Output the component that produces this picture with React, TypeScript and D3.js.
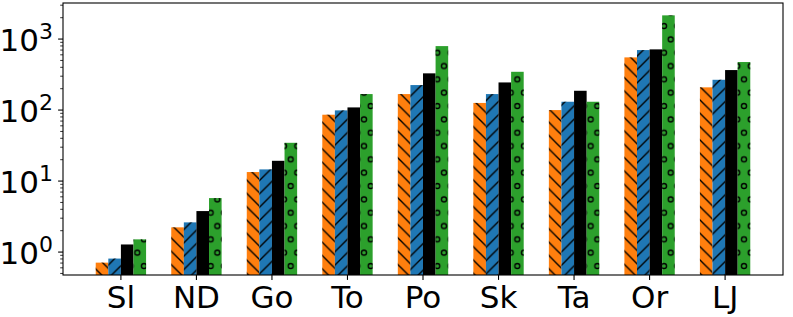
import React from "react";
import * as d3 from "d3";

const categories = ["Sl", "ND", "Go", "To", "Po", "Sk", "Ta", "Or", "LJ"];
const orangeVals = [0.71, 2.23, 13.4, 86, 168, 126, 100, 552, 209];
const blueVals = [0.81, 2.62, 14.6, 99, 225, 168, 131, 700, 267];
const blackVals = [1.28, 3.78, 19.3, 109, 329, 245, 187, 716, 366];
const greenVals = [1.51, 5.76, 34.6, 168, 796, 346, 131, 2157, 475];
const majorTicks = [1, 10, 100, 1000];
const majorLabels = ["0", "1", "2", "3"];

const series = [
  { vals: orangeVals, color: "#ff7f0e", hatch: "url(#hatchBack)" },
  { vals: blueVals, color: "#1f77b4", hatch: "url(#hatchFwd)" },
  { vals: blackVals, color: "#000000", hatch: null },
  { vals: greenVals, color: "#2ca02c", hatch: "url(#hatchCircles)" },
];

const W = 793;
const H = 317;
const left = 63, right = 783, top = 3, bottom = 275;
const barW = 1 / 6;

export default function App() {
  // x limits like matplotlib: bar extents + 5% margins
  const lo = -2 * barW, hi = categories.length - 1 + 2 * barW;
  const xm = (hi - lo) * 0.05;
  const x = d3.scaleLinear().domain([lo - xm, hi + xm]).range([left, right]);

  const all = series.flatMap(s => s.vals);
  const lmin = Math.log10(d3.min(all)!), lmax = Math.log10(d3.max(all)!);
  const ym = (lmax - lmin) * 0.05;
  const y = d3.scaleLog().domain([10 ** (lmin - ym), 10 ** (lmax + ym)]).range([bottom, top]);

  const minorTicks: number[] = [];
  for (let e = -1; e <= 3; e++) {
    for (let k = 2; k <= 9; k++) {
      const v = k * 10 ** e;
      if (v >= y.domain()[0] && v <= y.domain()[1]) minorTicks.push(v);
    }
  }

  const font = "DejaVu Sans, sans-serif";
  const P = 40 / 3;
  const hw = 1.4;

  return (
    <svg width={W} height={H} style={{ position: "absolute", left: 0, top: 0 }}>
      <defs>
        <pattern id="hatchBack" patternUnits="userSpaceOnUse" width={P} height={P}>
          <line x1={-1} y1={-1} x2={P + 1} y2={P + 1} stroke="#000" strokeWidth={hw} />
          <line x1={-1} y1={P - 1} x2={1} y2={P + 1} stroke="#000" strokeWidth={hw} />
          <line x1={P - 1} y1={-1} x2={P + 1} y2={1} stroke="#000" strokeWidth={hw} />
        </pattern>
        <pattern id="hatchFwd" patternUnits="userSpaceOnUse" width={P} height={P}>
          <line x1={-1} y1={P + 1} x2={P + 1} y2={-1} stroke="#000" strokeWidth={hw} />
          <line x1={-1} y1={1} x2={1} y2={-1} stroke="#000" strokeWidth={hw} />
          <line x1={P - 1} y1={P + 1} x2={P + 1} y2={P - 1} stroke="#000" strokeWidth={hw} />
        </pattern>
        <pattern id="hatchCircles" patternUnits="userSpaceOnUse" width={P} height={2 * P}
          patternTransform="translate(10.67,-0.64)">
          {[[0, 0], [P, 0], [P / 2, P], [0, 2 * P], [P, 2 * P]].map(([cx, cy], i) => (
            <circle key={i} cx={cx} cy={cy} r={2.5} fill="none" stroke="#000" strokeWidth={1.35} />
          ))}
        </pattern>
        <clipPath id="plotClip">
          <rect x={left} y={top} width={right - left} height={bottom - top} />
        </clipPath>
      </defs>

      <g clipPath="url(#plotClip)">
        {series.map((s, si) =>
          s.vals.map((v, i) => {
            const x0 = x(i + (si - 2) * barW);
            const x1 = x(i + (si - 1) * barW);
            const yt = y(v);
            return (
              <g key={`${si}-${i}`}>
                <rect x={x0} y={yt} width={x1 - x0} height={bottom - yt} fill={s.color} />
                {s.hatch && (
                  <rect x={x0} y={yt} width={x1 - x0} height={bottom - yt} fill={s.hatch} />
                )}
              </g>
            );
          })
        )}
      </g>

      {/* spines */}
      <rect x={left} y={top} width={right - left} height={bottom - top} fill="none" stroke="#000" strokeWidth={1.1} />

      {/* y ticks */}
      {majorTicks.map((t, i) => (
        <g key={t}>
          <line x1={left - 4.9} x2={left} y1={y(t)} y2={y(t)} stroke="#000" strokeWidth={1.1} />
          <text x={53} y={y(t) + 12} textAnchor="end" fontFamily={font} fontSize={31}>
            10<tspan fontSize={22} dy={-12}>{majorLabels[i]}</tspan>
          </text>
        </g>
      ))}
      {minorTicks.map(t => (
        <line key={t} x1={left - 2.8} x2={left} y1={y(t)} y2={y(t)} stroke="#000" strokeWidth={0.8} />
      ))}

      {/* x ticks */}
      {categories.map((c, i) => (
        <g key={c}>
          <line x1={x(i)} x2={x(i)} y1={bottom} y2={bottom + 4.9} stroke="#000" strokeWidth={1.1} />
          <text x={x(i)} y={307.5} textAnchor="middle" fontFamily={font} fontSize={31}>{c}</text>
        </g>
      ))}
    </svg>
  );
}
